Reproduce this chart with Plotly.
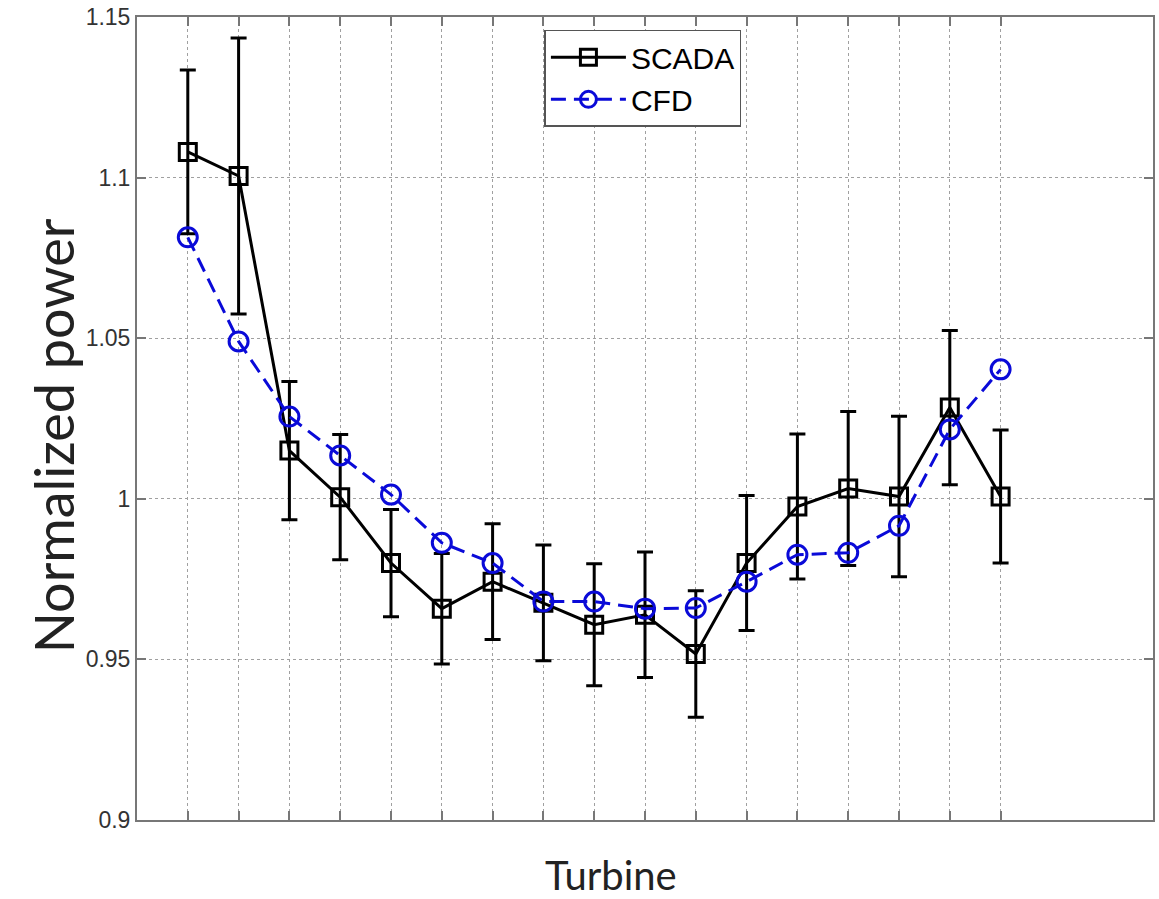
import plotly.graph_objects as go

turbines = list(range(1, 18))
scada = [1.108, 1.1005, 1.015, 1.0005, 0.980, 0.9658, 0.9742, 0.9676, 0.9608, 0.9639,
         0.9517, 0.980, 0.9976, 1.0032, 1.0007, 1.0284, 1.0007]
scada_err = [0.0255, 0.043, 0.0215, 0.0195, 0.0167, 0.0172, 0.018, 0.018, 0.019, 0.0195,
             0.0197, 0.021, 0.0226, 0.024, 0.025, 0.024, 0.0207]
cfd = [1.0814, 1.049, 1.0256, 1.0135, 1.0013, 0.9863, 0.980, 0.968, 0.968, 0.9658,
       0.966, 0.9742, 0.9826, 0.9832, 0.9916, 1.0216, 1.0403]
ytick_vals = [0.9, 0.95, 1.0, 1.05, 1.1, 1.15]
ytick_text = ["0.9", "0.95", "1", "1.05", "1.1", "1.15"]

fig = go.Figure()
fig.add_trace(go.Scatter(
    x=turbines, y=scada, name="SCADA", mode="lines+markers",
    line=dict(color="black", width=3),
    marker=dict(symbol="square-open", size=17, color="black", line=dict(width=3, color="black")),
    error_y=dict(type="data", array=scada_err, visible=True, color="black", thickness=3, width=8),
))
fig.add_trace(go.Scatter(
    x=turbines, y=cfd, name="CFD", mode="lines+markers",
    line=dict(color="#0a0ad8", width=3, dash="15px,8px"),
    marker=dict(symbol="circle-open", size=19, color="#0a0ad8", line=dict(width=3, color="#0a0ad8")),
))

axis_common = dict(
    showline=True, linecolor="#777777", linewidth=2, mirror="ticks",
    ticks="inside", ticklen=9, tickcolor="#777777", tickwidth=1.5,
    showgrid=True, gridcolor="#a0a0a0", griddash="dot", gridwidth=1,
    zeroline=False, automargin=False,
)
fig.update_xaxes(range=[0, 20], tickvals=turbines, showticklabels=False, **axis_common)
fig.update_yaxes(range=[0.9, 1.15], tickvals=ytick_vals, ticktext=ytick_text,
                 tickfont=dict(family="Liberation Sans, Arial", size=23, color="#333333"),
                 ticklabeloverflow="allow", **axis_common)

fig.add_annotation(text="Normalized power", xref="paper", yref="paper", x=-0.0827, y=0.479,
                   xanchor="center", yanchor="middle", textangle=-90, showarrow=False,
                   font=dict(family="Lato", size=54, color="#222222"))
fig.add_annotation(text="Turbine", xref="paper", yref="paper", x=0.4665, y=-0.068,
                   xanchor="center", yanchor="middle", showarrow=False,
                   font=dict(family="Lato", size=40, color="#222222"))

fig.update_layout(
    width=1159, height=899,
    margin=dict(l=137, r=6, t=17, b=79, autoexpand=False),
    paper_bgcolor="white", plot_bgcolor="white",
    showlegend=True,
    legend=dict(x=0.401, y=0.984, xanchor="left", yanchor="top",
                bgcolor="white", bordercolor="#555555", borderwidth=1.5,
                font=dict(family="Liberation Sans, Arial", size=30, color="black"),
                itemwidth=75, tracegroupgap=0),
)

fig.write_html("out.html", config={"displayModeBar": False},
               post_script="document.body.style.margin='0px';")
